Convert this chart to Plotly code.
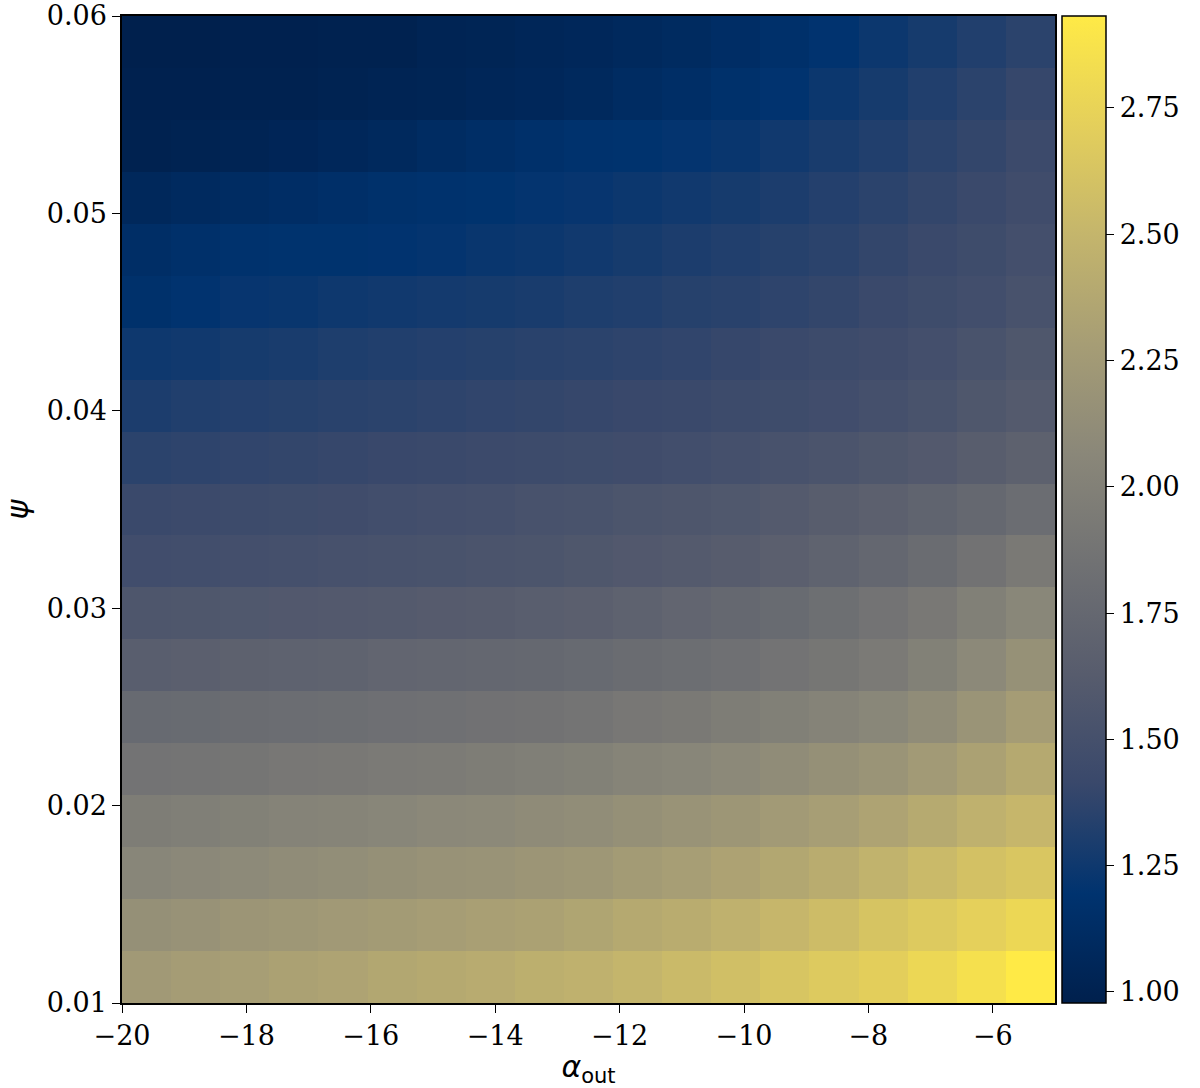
import plotly.graph_objects as go

# cell edges (19 x 19 grid)
alpha_edges = [-20.0, -19.2105, -18.4211, -17.6316, -16.8421, -16.0526, -15.2632, -14.4737,
               -13.6842, -12.8947, -12.1053, -11.3158, -10.5263, -9.7368, -8.9474, -8.1579,
               -7.3684, -6.5789, -5.7895, -5.0]
psi_edges = [0.01, 0.012632, 0.015263, 0.017895, 0.020526, 0.023158, 0.025789, 0.028421,
             0.031053, 0.033684, 0.036316, 0.038947, 0.041579, 0.044211, 0.046842, 0.049474,
             0.052105, 0.054737, 0.057368, 0.06]

# values, rows from lowest psi to highest psi
row_00 = [2.24, 2.27, 2.29, 2.32, 2.34, 2.37, 2.39, 2.41, 2.44, 2.46, 2.50, 2.54, 2.58, 2.63, 2.67, 2.71, 2.78, 2.85, 2.93]
row_01 = [2.15, 2.17, 2.20, 2.22, 2.24, 2.26, 2.28, 2.30, 2.32, 2.35, 2.39, 2.42, 2.46, 2.51, 2.56, 2.62, 2.67, 2.72, 2.78]
row_02 = [2.05, 2.07, 2.09, 2.11, 2.13, 2.15, 2.17, 2.18, 2.20, 2.22, 2.26, 2.29, 2.33, 2.37, 2.42, 2.48, 2.54, 2.60, 2.64]
row_03 = [1.96, 1.98, 2.00, 2.02, 2.03, 2.05, 2.07, 2.08, 2.10, 2.12, 2.15, 2.18, 2.21, 2.25, 2.29, 2.34, 2.40, 2.46, 2.51]
row_04 = [1.87, 1.88, 1.89, 1.91, 1.92, 1.94, 1.95, 1.96, 1.98, 2.00, 2.03, 2.05, 2.08, 2.11, 2.15, 2.19, 2.25, 2.32, 2.39]
row_05 = [1.77, 1.78, 1.79, 1.80, 1.81, 1.83, 1.84, 1.85, 1.86, 1.88, 1.91, 1.93, 1.96, 1.99, 2.02, 2.06, 2.11, 2.19, 2.27]
row_06 = [1.65, 1.66, 1.68, 1.69, 1.70, 1.72, 1.73, 1.74, 1.75, 1.77, 1.79, 1.81, 1.84, 1.87, 1.90, 1.94, 2.00, 2.08, 2.16]
row_07 = [1.56, 1.57, 1.58, 1.59, 1.60, 1.61, 1.62, 1.63, 1.65, 1.66, 1.69, 1.72, 1.75, 1.78, 1.82, 1.87, 1.92, 1.99, 2.06]
row_08 = [1.47, 1.48, 1.49, 1.50, 1.51, 1.52, 1.53, 1.54, 1.55, 1.57, 1.59, 1.61, 1.63, 1.66, 1.70, 1.74, 1.79, 1.86, 1.93]
row_09 = [1.42, 1.43, 1.44, 1.45, 1.46, 1.48, 1.49, 1.50, 1.52, 1.53, 1.55, 1.56, 1.58, 1.61, 1.64, 1.67, 1.71, 1.75, 1.80]
row_10 = [1.36, 1.37, 1.38, 1.39, 1.40, 1.41, 1.42, 1.43, 1.44, 1.45, 1.46, 1.48, 1.50, 1.52, 1.54, 1.57, 1.60, 1.64, 1.68]
row_11 = [1.30, 1.32, 1.33, 1.34, 1.35, 1.36, 1.37, 1.38, 1.39, 1.40, 1.41, 1.42, 1.44, 1.45, 1.47, 1.50, 1.53, 1.57, 1.61]
row_12 = [1.25, 1.26, 1.28, 1.29, 1.31, 1.32, 1.33, 1.34, 1.35, 1.36, 1.37, 1.38, 1.40, 1.42, 1.44, 1.46, 1.49, 1.53, 1.57]
row_13 = [1.17, 1.20, 1.22, 1.23, 1.25, 1.26, 1.27, 1.28, 1.29, 1.31, 1.32, 1.34, 1.35, 1.37, 1.39, 1.42, 1.45, 1.48, 1.52]
row_14 = [1.14, 1.16, 1.18, 1.19, 1.19, 1.20, 1.21, 1.23, 1.24, 1.26, 1.28, 1.30, 1.32, 1.34, 1.36, 1.39, 1.42, 1.45, 1.49]
row_15 = [1.07, 1.09, 1.11, 1.13, 1.15, 1.17, 1.18, 1.19, 1.21, 1.22, 1.24, 1.26, 1.28, 1.30, 1.33, 1.36, 1.39, 1.42, 1.46]
row_16 = [1.00, 1.01, 1.02, 1.04, 1.06, 1.08, 1.11, 1.14, 1.16, 1.18, 1.19, 1.21, 1.23, 1.26, 1.29, 1.32, 1.36, 1.39, 1.43]
row_17 = [0.99, 0.99, 1.00, 1.00, 1.01, 1.02, 1.03, 1.05, 1.06, 1.08, 1.11, 1.14, 1.17, 1.20, 1.24, 1.28, 1.32, 1.36, 1.40]
row_18 = [0.98, 0.98, 0.99, 0.99, 1.00, 1.00, 1.02, 1.03, 1.05, 1.06, 1.08, 1.10, 1.13, 1.16, 1.20, 1.24, 1.28, 1.32, 1.36]

z_values = [row_00, row_01, row_02, row_03, row_04, row_05, row_06, row_07, row_08, row_09,
            row_10, row_11, row_12, row_13, row_14, row_15, row_16, row_17, row_18]

x_ticks = [-20, -18, -16, -14, -12, -10, -8, -6]
y_ticks = [0.01, 0.02, 0.03, 0.04, 0.05, 0.06]
cb_ticks = [1.00, 1.25, 1.50, 1.75, 2.00, 2.25, 2.50, 2.75]

cividis = [
    [0.000, "#00204D"], [0.111, "#00336F"], [0.222, "#39486B"], [0.333, "#575C6D"],
    [0.444, "#707173"], [0.556, "#8A8779"], [0.667, "#A69D75"], [0.778, "#C4B56C"],
    [0.889, "#E4CF5B"], [1.000, "#FFEA46"],
]

font_family = "DejaVu Serif"
title_family = "DejaVu Sans"
tick_size = 27

fig = go.Figure(go.Heatmap(
    x=alpha_edges, y=psi_edges, z=z_values,
    colorscale=cividis, zmin=0.978, zmax=2.932,
    colorbar=dict(
        x=1.0075, xanchor="left", xpad=0, y=0.5, yanchor="middle", len=1.0, ypad=0,
        lenmode="fraction", thickness=44, thicknessmode="pixels",
        outlinewidth=1.5, outlinecolor="black",
        tickvals=cb_ticks, ticktext=[f"{v:.2f}" for v in cb_ticks],
        ticks="outside", ticklen=8, tickwidth=1.2, tickcolor="black",
        tickfont=dict(family=font_family, size=tick_size, color="black"),
    ),
))

fig.update_layout(
    width=1200, height=1088,
    margin=dict(l=122, r=145, t=16, b=85, autoexpand=False),
    paper_bgcolor="white", plot_bgcolor="white",
    font=dict(family=font_family, color="black"),
)
fig.update_xaxes(
    range=[-20, -5], tickvals=x_ticks, ticktext=[f"\u2212{abs(v)}" for v in x_ticks],
    ticks="outside", ticklen=8, tickwidth=1.2, tickcolor="black",
    showline=True, linecolor="black", linewidth=1.5, mirror=True,
    showgrid=False, zeroline=False, automargin=False, ticklabeloverflow="allow",
    tickfont=dict(family=font_family, size=tick_size, color="black"),
    title=dict(text="<i>α</i><sub>out</sub>", standoff=2,
               font=dict(family=title_family, size=30, color="black")),
)
fig.update_yaxes(
    range=[0.01, 0.06], tickvals=y_ticks, ticktext=[f"{v:.2f}" for v in y_ticks],
    ticks="outside", ticklen=8, tickwidth=1.2, tickcolor="black",
    showline=True, linecolor="black", linewidth=1.5, mirror=True,
    showgrid=False, zeroline=False, automargin=False, ticklabeloverflow="allow",
    tickfont=dict(family=font_family, size=tick_size, color="black"),
    title=dict(text="<i>ψ</i>", standoff=14,
               font=dict(family=title_family, size=30, color="black")),
)

fig.write_html("out.html", config={"displayModeBar": False},
               post_script="document.body.style.margin='0';")
